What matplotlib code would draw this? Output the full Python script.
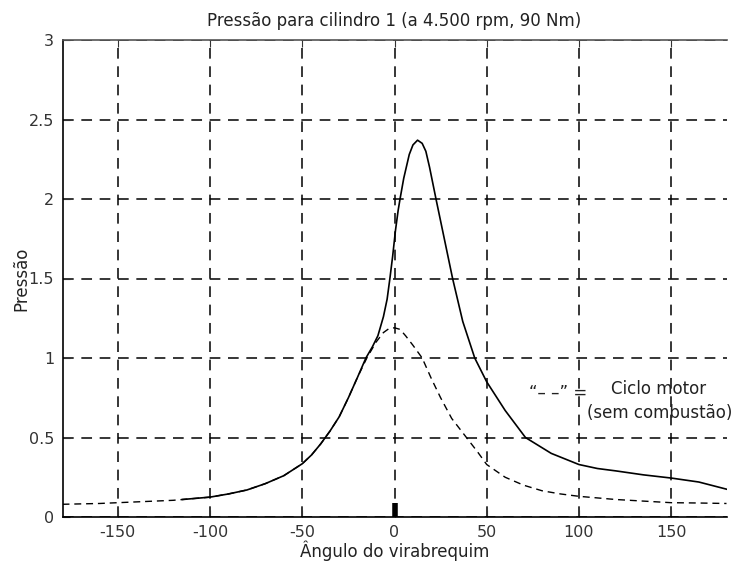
import numpy as np
import matplotlib
matplotlib.use('Agg')
from matplotlib import pyplot as plt

plt.rcParams['font.family'] = ['DejaVu Sans']
plt.rcParams['axes.unicode_minus'] = False

# angle / pressure
ang_mot = [-180, -160, -140, -120, -100, -90, -80, -70, -60, -50, -45, -40, -35, -30,
           -25, -20, -15, -10, -6, -3, 0, 3, 6, 10, 15, 20, 25, 31, 39, 45, 50,
           55, 60, 70, 80, 90, 100, 110, 120, 135, 150, 165, 180]
p_mot = [0.08, 0.085, 0.095, 0.105, 0.125, 0.145, 0.17, 0.21, 0.26, 0.335, 0.39, 0.46, 0.54,
         0.63, 0.75, 0.88, 1.0, 1.1, 1.16, 1.185, 1.19, 1.18, 1.14, 1.08, 1.0, 0.87, 0.75,
         0.62, 0.5, 0.41, 0.33, 0.29, 0.25, 0.2, 0.165, 0.145, 0.13, 0.12, 0.11, 0.1,
         0.09, 0.088, 0.085]

ang_fire = [-115, -100, -90, -80, -70, -60, -50, -45, -40, -35, -30,
            -25, -20, -15.5, -12, -9, -6, -4, -2.5, -1, 0.5, 2, 3, 5, 8, 10, 12.5, 15, 17,
            19, 22.5, 27, 31.5, 37, 43.5, 50, 60, 71, 85, 100, 110, 120, 135, 150, 165, 180]
p_fire = [0.11, 0.125, 0.145, 0.17, 0.21, 0.26, 0.335, 0.39, 0.46, 0.54, 0.63,
          0.75, 0.88, 1.0, 1.07, 1.14, 1.26, 1.37, 1.5, 1.64, 1.8, 1.93, 2.0, 2.13, 2.28,
          2.34, 2.37, 2.35, 2.3, 2.2, 2.0, 1.75, 1.5, 1.23, 1.0, 0.85, 0.67, 0.5, 0.4,
          0.33, 0.305, 0.29, 0.265, 0.245, 0.22, 0.175]

fig = plt.figure(figsize=(7.35, 5.64), dpi=100)
ax = fig.add_axes([62.5/735, 1 - 517/564, 664/735, 477/564])

ax.plot(ang_mot, p_mot, '--', color='black', lw=1.0, dashes=(5, 3.5))
ax.plot(ang_fire, p_fire, '-', color='black', lw=1.2)
ax.plot([0, 0], [0, 0.09], '-', color='black', lw=4, solid_capstyle='butt')

ax.set_xlim(-180, 180)
ax.set_ylim(0, 3)
ax.set_xticks([-150, -100, -50, 0, 50, 100, 150])
ax.set_yticks([0, 0.5, 1, 1.5, 2, 2.5, 3])
ax.set_yticklabels(['0', '0.5', '1', '1.5', '2', '2.5', '3'])
ax.grid(True, color='black', linestyle=(0, (7, 5)), lw=1.1)
ax.tick_params(direction='in', length=5, labelsize=11.5, colors='#333333', top=True, pad=6)
ax.spines['right'].set_visible(False)
for s in ['left', 'bottom', 'top']:
    ax.spines[s].set_linewidth(1.2)
ax.spines['top'].set_color('#555555')

ax.set_title('Pressão para cilindro 1 (a 4.500 rpm, 90 Nm)', fontsize=12, color='#222222', pad=10)
ax.set_xlabel('Ângulo do virabrequim', fontsize=12, color='#222222', labelpad=0)
ax.set_ylabel('Pressão', fontsize=12, color='#222222', labelpad=-1)

ax.text(88.5, 0.78, '“– –” =', fontsize=12, color='#222222', ha='center', va='center')
ax.text(143, 0.805, 'Ciclo motor', fontsize=12, color='#222222', ha='center', va='center')
ax.text(144, 0.654, '(sem combustão)', fontsize=12, color='#222222', ha='center', va='center', clip_on=False)

fig.savefig('out.png', dpi=100)
